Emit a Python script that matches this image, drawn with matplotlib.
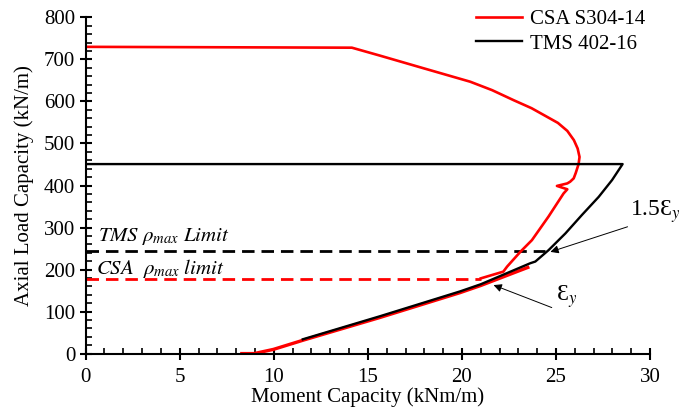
import matplotlib
matplotlib.use("Agg")
import matplotlib.pyplot as plt
from matplotlib.ticker import MultipleLocator

plt.rcParams['font.family'] = ['Liberation Serif', 'DejaVu Serif']
plt.rcParams['mathtext.fontset'] = 'stix'

# CSA S304-14 interaction curve (upper branch)
csa_upper_m = [0, 14.15, 15.65, 17.96, 20.44, 21.6, 22.75, 23.7, 24.5, 25.1, 25.6, 25.95,
               26.15, 26.25, 26.2, 26.05, 25.94, 25.75, 25.6, 25.05, 25.6, 25.4, 24.6,
               23.72, 23.1, 22.4, 22.2, 21.0]
csa_upper_p = [730, 728, 709, 679, 647, 627, 603, 584, 564, 549, 530, 508,
               488, 468, 451, 430, 417, 409, 405, 399, 391, 381, 326,
               270, 242, 207, 195, 179]
# CSA S304-14 lower branch
csa_lower_m = [8.3, 8.95, 9.98, 11.57, 15.65, 19.9, 21.0, 23.5]
csa_lower_p = [0, 0, 10, 32, 86, 145, 162, 205]
# TMS 402-16 interaction curve
tms_m = [0, 28.54, 27.98, 27.27, 26.38, 25.5, 24.6, 23.9, 23.63, 21.0, 19.9, 15.65, 11.54]
tms_p = [451, 451, 413, 373, 330, 286, 246, 219, 215, 165, 148, 89, 34]
# rho_max limits
tms_limit_m = [0, 24.4]
tms_limit_p = [243, 243]
csa_limit_m = [0, 21.0]
csa_limit_p = [178, 178]

fig = plt.figure(figsize=(6.8, 4.15), dpi=100)
ax = fig.add_axes([0.126, 0.148, 0.830, 0.810])

ax.plot(csa_limit_m, csa_limit_p, color='#ff0000', lw=2.0, dashes=(4.5, 2.5))
ax.plot(tms_limit_m, tms_limit_p, color='black', lw=2.0, dashes=(4.5, 2.5))
ax.plot(csa_upper_m, csa_upper_p, color='#ff0000', lw=1.9, label='CSA S304-14')
ax.plot(csa_lower_m, csa_lower_p, color='#ff0000', lw=2.4)
ax.plot(tms_m, tms_p, color='black', lw=1.7, label='TMS 402-16')

ax.set_xlim(0, 30)
ax.set_ylim(0, 800)
ax.xaxis.set_major_locator(MultipleLocator(5))
ax.xaxis.set_minor_locator(MultipleLocator(1))
ax.yaxis.set_major_locator(MultipleLocator(100))
ax.yaxis.set_minor_locator(MultipleLocator(20))
ax.spines['top'].set_visible(False)
ax.spines['right'].set_visible(False)
for s in ['left', 'bottom']:
    ax.spines[s].set_linewidth(1.5)
ax.tick_params(which='major', direction='inout', length=9, width=1.5, labelsize=15, pad=3)
ax.tick_params(axis='x', which='major', pad=6)
ax.tick_params(which='minor', direction='in', length=4, width=1.2)

ax.set_xlabel('Moment Capacity (kNm/m)', fontsize=15, labelpad=0)
ax.set_ylabel('Axial Load Capacity (kN/m)', fontsize=15, labelpad=7)

ax.text(0.65, 278, r'$TMS\ \rho_{max}\ Limit$', fontsize=15, va='center', ha='left')
ax.text(0.55, 203, r'$CSA\ \ \rho_{max}\ limit$', fontsize=15, va='center', ha='left')

ax.annotate('1.5Ɛ$_y$', xy=(24.7, 242), xytext=(28.95, 337), fontsize=17,
            va='center', ha='left', annotation_clip=False,
            arrowprops=dict(arrowstyle='-|>', color='black', lw=0.7,
                            mutation_scale=12, shrinkA=0, shrinkB=0,
                            relpos=(0.03, 0.0)))
ax.annotate('Ɛ$_y$', xy=(21.68, 163), xytext=(25.0, 135), fontsize=17,
            va='center', ha='left',
            arrowprops=dict(arrowstyle='-|>', color='black', lw=0.7,
                            mutation_scale=12, shrinkA=0, shrinkB=0,
                            relpos=(-0.2, 0.1)))

ax.legend(loc='upper right', bbox_to_anchor=(1.025, 1.08), frameon=False,
          fontsize=15, handlelength=2.2, handletextpad=0.4, labelspacing=0.25)

fig.savefig('out.png', dpi=100)
